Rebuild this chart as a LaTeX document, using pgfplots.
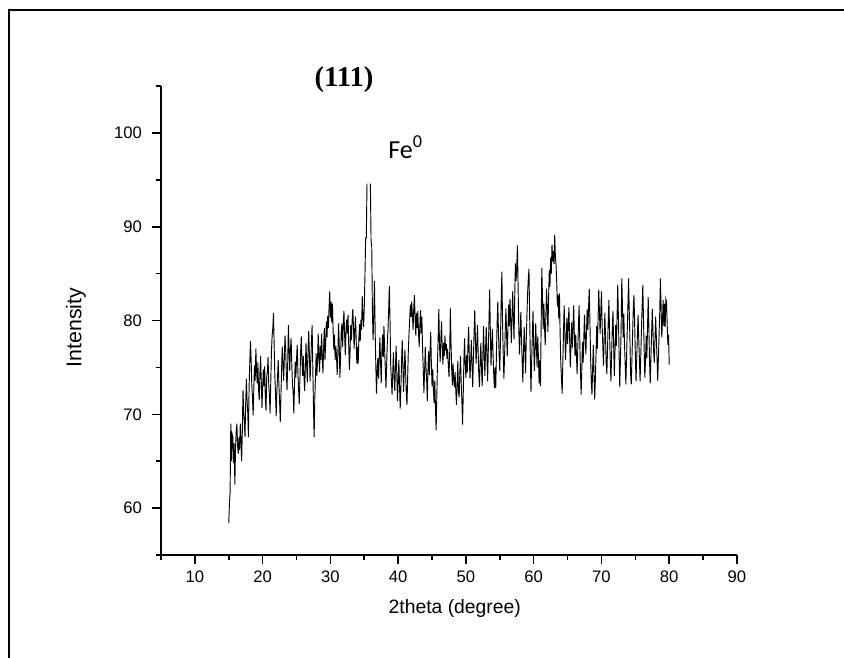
\documentclass[border=0pt]{standalone}
\usepackage{pgfplots}
\pgfplotsset{compat=1.18}
\usepackage{fontspec}
\setmainfont{Liberation Sans}
\newfontfamily\titlefont{Liberation Serif}
\newfontfamily\labelfont{Carlito}

\begin{document}
\begin{tikzpicture}
\useasboundingbox (0,0) rectangle (633pt,-493.5pt);
% page frame, only top and left edges are visible
\draw[line width=1.5pt] (6.5pt,-493.5pt) -- (6.5pt,-7.5pt) -- (633pt,-7.5pt);
\begin{axis}[
    at={(120.75pt,-416.25pt)}, anchor=south west,
    scale only axis, width=432pt, height=351.75pt,
    xmin=5, xmax=90, ymin=55, ymax=105,
    axis lines=left,
    axis line style={-, line width=1.5pt},
    tick align=outside,
    xtick={10,20,...,90}, minor xtick={5,15,...,85},
    ytick={60,70,...,100}, minor ytick={55,65,...,105},
    major tick length=6.75pt, minor tick length=3.75pt,
    every tick/.style={black, line width=1.2pt},
    /pgf/number format/assume math mode=true,
    tick label style={font=\fontsize{12.5}{14}\selectfont},
    yticklabel style={xshift=-4pt},
    xticklabel style={yshift=-1.5pt},
    xlabel={2theta (degree)},
    ylabel={Intensity},
    xlabel style={font=\fontsize{14.5}{16}\selectfont, at={(axis description cs:0.51,-0.113)}, anchor=center},
    ylabel style={font=\fontsize{16}{18}\selectfont, at={(axis description cs:-0.148,0.485)}, anchor=center},
    unbounded coords=jump,
]
\addplot[black, line width=0.7pt] coordinates {
(15.0,58.4) (15.1,60.5) (15.2,61.7) (15.3,69.0) (15.4,65.0) (15.5,67.9) (15.6,67.6) (15.7,64.8) (15.8,66.9) (15.9,62.5)
(16.0,66.4) (16.1,68.2) (16.2,69.0) (16.3,66.7) (16.4,65.8) (16.5,67.5) (16.6,66.2) (16.7,69.0) (16.8,67.3) (16.9,65.0)
(17.0,68.1) (17.1,72.6) (17.2,70.4) (17.3,69.1) (17.4,67.6) (17.5,71.2) (17.6,73.8) (17.7,71.5) (17.8,70.2) (17.9,67.6)
(18.0,72.9) (18.1,75.4) (18.2,77.8) (18.3,75.9) (18.4,73.1) (18.5,71.8) (18.6,69.9) (18.7,72.8) (18.8,75.2) (18.9,73.6)
(19.0,77.0) (19.1,74.8) (19.2,73.3) (19.3,75.5) (19.4,72.6) (19.5,71.5) (19.6,74.4) (19.7,76.2) (19.8,73.4) (19.9,70.7)
(20.0,72.9) (20.1,74.8) (20.2,73.0) (20.3,75.1) (20.4,71.6) (20.5,70.4) (20.6,73.9) (20.7,74.6) (20.8,76.1) (20.9,73.2)
(21.0,72.0) (21.1,70.1) (21.2,73.5) (21.3,76.7) (21.4,78.4) (21.5,79.2) (21.6,80.8) (21.7,77.3) (21.8,74.1) (21.9,72.3)
(22.0,69.8) (22.1,72.5) (22.2,74.0) (22.3,75.8) (22.4,73.1) (22.5,71.4) (22.6,69.2) (22.7,72.0) (22.8,74.9) (22.9,77.2)
(23.0,75.3) (23.1,73.6) (23.2,76.0) (23.3,78.4) (23.4,76.8) (23.5,74.2) (23.6,72.6) (23.7,75.5) (23.8,79.5) (23.9,77.0)
(24.0,74.6) (24.1,76.9) (24.2,78.1) (24.3,75.4) (24.4,73.2) (24.5,72.4) (24.6,70.1) (24.7,73.0) (24.8,75.6) (24.9,73.9)
(25.0,75.8) (25.1,77.4) (25.2,74.5) (25.3,72.8) (25.4,71.1) (25.5,73.7) (25.6,76.5) (25.7,78.3) (25.8,75.9) (25.9,74.1)
(26.0,76.2) (26.1,74.1) (26.2,72.5) (26.3,75.0) (26.4,77.6) (26.5,75.2) (26.6,73.4) (26.7,76.8) (26.8,78.9) (26.9,76.3)
(27.0,73.5) (27.1,75.6) (27.2,77.7) (27.3,79.5) (27.4,75.1) (27.5,70.8) (27.6,67.6) (27.7,71.9) (27.8,74.1) (27.9,76.5)
(28.0,74.1) (28.1,75.7) (28.2,78.6) (28.3,76.2) (28.4,74.5) (28.5,77.3) (28.6,75.8) (28.7,78.6) (28.8,76.0) (28.9,74.4)
(29.0,77.1) (29.1,79.2) (29.2,75.8) (29.3,77.5) (29.4,79.9) (29.5,78.2) (29.6,80.5) (29.7,79.2) (29.8,81.4) (29.9,83.1)
(30.0,80.3) (30.1,82.0) (30.2,79.8) (30.3,81.8) (30.4,78.9) (30.5,76.9) (30.6,78.5) (30.7,75.8) (30.8,77.3) (30.9,76.2)
(31.0,74.2) (31.1,76.4) (31.2,79.7) (31.3,77.6) (31.4,73.9) (31.5,76.0) (31.6,78.8) (31.7,79.7) (31.8,77.2) (31.9,79.7)
(32.0,81.0) (32.1,78.4) (32.2,76.3) (32.3,78.9) (32.4,80.1) (32.5,78.6) (32.6,80.6) (32.7,77.5) (32.8,74.7) (32.9,76.8)
(33.0,79.5) (33.1,77.9) (33.2,79.9) (33.3,81.2) (33.4,79.5) (33.5,77.0) (33.6,78.8) (33.7,80.4) (33.8,78.1) (33.9,75.4)
(34.0,77.2) (34.1,75.4) (34.2,78.0) (34.3,79.6) (34.4,77.8) (34.5,80.1) (34.6,79.0) (34.7,82.6) (34.8,80.4) (34.9,79.3)
(35.0,81.5) (35.1,84.8) (35.2,88.8) (35.3,88.8) (35.4,94.6) (35.5,nan) (35.9,94.6)
(36.0,88.4) (36.1,87.9) (36.2,81.0) (36.3,77.9) (36.4,80.6) (36.5,84.2) (36.6,79.0) (36.7,75.3) (36.8,72.2) (36.9,74.6)
(37.0,76.0) (37.1,73.8) (37.2,75.9) (37.3,78.2) (37.4,75.6) (37.5,73.3) (37.6,76.8) (37.7,78.5) (37.8,76.1) (37.9,79.4)
(38.0,77.0) (38.1,74.9) (38.2,72.8) (38.3,75.3) (38.4,77.6) (38.5,79.1) (38.6,81.2) (38.7,83.7) (38.8,79.9) (38.9,75.2)
(39.0,73.6) (39.1,72.1) (39.2,74.5) (39.3,76.6) (39.4,74.0) (39.5,72.5) (39.6,75.1) (39.7,77.3) (39.8,74.2) (39.9,71.4)
(40.0,73.5) (40.1,75.8) (40.2,73.0) (40.3,70.6) (40.4,72.8) (40.5,75.6) (40.6,77.9) (40.7,75.0) (40.8,72.4) (40.9,74.8)
(41.0,76.9) (41.1,74.5) (41.2,72.2) (41.3,71.0) (41.4,73.9) (41.5,76.8) (41.6,78.6) (41.7,80.1) (41.8,81.7) (41.9,80.4)
(42.0,82.0) (42.1,80.6) (42.2,79.0) (42.3,81.3) (42.4,82.7) (42.5,80.2) (42.6,78.4) (42.7,80.8) (42.8,79.2) (42.9,81.0)
(43.0,78.8) (43.1,77.2) (43.2,79.5) (43.3,81.1) (43.4,78.6) (43.5,80.4) (43.6,77.0) (43.7,74.8) (43.8,72.3) (43.9,74.6)
(44.0,77.2) (44.1,75.1) (44.2,73.7) (44.3,71.4) (44.4,74.9) (44.5,76.7) (44.6,74.2) (44.7,76.5) (44.8,78.8) (44.9,75.4)
(45.0,73.0) (45.1,74.8) (45.2,72.6) (45.3,71.2) (45.4,73.6) (45.5,70.9) (45.6,68.3) (45.7,71.8) (45.8,75.5) (45.9,78.2)
(46.0,81.2) (46.1,77.4) (46.2,75.6) (46.3,78.0) (46.4,79.9) (46.5,77.1) (46.6,75.3) (46.7,77.6) (46.8,76.2) (46.9,78.4)
(47.0,76.8) (47.1,77.5) (47.2,75.9) (47.3,77.0) (47.4,75.2) (47.5,74.0) (47.6,76.3) (47.7,81.3) (47.8,77.6) (47.9,74.8)
(48.0,73.1) (48.1,75.4) (48.2,73.6) (48.3,72.9) (48.4,74.5) (48.5,72.6) (48.6,71.0) (48.7,73.2) (48.8,75.7) (48.9,72.4)
(49.0,71.8) (49.1,74.5) (49.2,76.2) (49.3,73.4) (49.4,71.5) (49.5,68.9) (49.6,72.0) (49.7,75.8) (49.8,78.1) (49.9,75.2)
(50.0,73.9) (50.1,76.3) (50.2,74.5) (50.3,77.4) (50.4,79.3) (50.5,76.0) (50.6,73.8) (50.7,75.6) (50.8,77.9) (50.9,75.3)
(51.0,72.9) (51.1,75.8) (51.2,78.7) (51.3,81.1) (51.4,78.0) (51.5,75.4) (51.6,77.3) (51.7,79.5) (51.8,76.8) (51.9,74.2)
(52.0,72.9) (52.1,75.6) (52.2,77.6) (52.3,74.9) (52.4,73.0) (52.5,76.2) (52.6,79.4) (52.7,76.5) (52.8,74.1) (52.9,77.0)
(53.0,79.3) (53.1,76.4) (53.2,73.5) (53.3,76.8) (53.4,79.9) (53.5,83.3) (53.6,79.0) (53.7,75.2) (53.8,77.4) (53.9,79.1)
(54.0,76.5) (54.1,74.3) (54.2,72.8) (54.3,75.0) (54.4,72.8) (54.5,76.4) (54.6,79.6) (54.7,82.0) (54.8,78.8) (54.9,76.3)
(55.0,74.6) (55.1,78.2) (55.2,81.9) (55.3,85.2) (55.4,80.1) (55.5,76.5) (55.6,73.8) (55.7,76.1) (55.8,78.9) (55.9,81.3)
(56.0,78.5) (56.1,76.2) (56.2,79.0) (56.3,81.7) (56.4,79.4) (56.5,82.3) (56.6,80.0) (56.7,77.6) (56.8,80.4) (56.9,83.1)
(57.0,80.2) (57.1,78.0) (57.2,82.6) (57.3,86.1) (57.4,84.2) (57.5,85.8) (57.6,88.0) (57.7,83.5) (57.8,79.2) (57.9,76.4)
(58.0,78.6) (58.1,80.9) (58.2,78.1) (58.3,75.6) (58.4,73.4) (58.5,76.7) (58.6,79.3) (58.7,77.0) (58.8,74.4) (58.9,77.8)
(59.0,80.5) (59.1,82.9) (59.2,84.4) (59.3,85.5) (59.4,80.7) (59.5,76.1) (59.6,72.4) (59.7,75.6) (59.8,78.5) (59.9,81.0)
(60.0,77.4) (60.1,74.6) (60.2,76.9) (60.3,79.7) (60.4,77.2) (60.5,75.0) (60.6,78.3) (60.7,76.0) (60.8,73.3) (60.9,75.8)
(61.0,73.0) (61.1,79.4) (61.2,85.6) (61.3,82.3) (61.4,79.1) (61.5,81.8) (61.6,79.3) (61.7,77.4) (61.8,80.6) (61.9,83.4)
(62.0,81.2) (62.1,78.8) (62.2,82.5) (62.3,85.4) (62.4,83.6) (62.5,86.7) (62.6,85.0) (62.7,88.1) (62.8,86.3) (62.9,87.4)
(63.0,86.0) (63.1,89.1) (63.2,86.8) (63.3,85.9) (63.4,84.0) (63.5,81.5) (63.6,82.7) (63.7,80.2) (63.8,82.9) (63.9,78.6)
(64.0,75.4) (64.1,73.8) (64.2,72.2) (64.3,75.6) (64.4,78.9) (64.5,81.6) (64.6,78.4) (64.7,75.8) (64.8,78.0) (64.9,80.3)
(65.0,77.5) (65.1,79.6) (65.2,81.4) (65.3,78.2) (65.4,75.0) (65.5,77.3) (65.6,79.8) (65.7,77.1) (65.8,79.3) (65.9,81.6)
(66.0,78.4) (66.1,76.2) (66.2,78.5) (66.3,76.6) (66.4,74.3) (66.5,76.8) (66.6,79.4) (66.7,81.6) (66.8,77.9) (66.9,74.6)
(67.0,72.1) (67.1,74.8) (67.2,77.7) (67.3,75.5) (67.4,78.3) (67.5,80.6) (67.6,78.0) (67.7,76.4) (67.8,79.1) (67.9,81.2)
(68.0,79.0) (68.1,81.5) (68.2,83.4) (68.3,79.8) (68.4,76.0) (68.5,73.6) (68.6,72.1) (68.7,74.9) (68.8,77.4) (68.9,74.3)
(69.0,71.6) (69.1,73.7) (69.2,76.5) (69.3,79.4) (69.4,77.0) (69.5,80.3) (69.6,83.3) (69.7,81.0) (69.8,78.6) (69.9,80.9)
(70.0,83.1) (70.1,79.6) (70.2,77.2) (70.3,75.2) (70.4,78.0) (70.5,80.8) (70.6,78.3) (70.7,75.4) (70.8,74.3) (70.9,77.1)
(71.0,79.9) (71.1,82.2) (71.2,78.5) (71.3,75.6) (71.4,73.5) (71.5,76.4) (71.6,79.2) (71.7,81.0) (71.8,77.4) (71.9,74.1)
(72.0,76.8) (72.1,79.5) (72.2,77.3) (72.3,80.2) (72.4,83.8) (72.5,80.4) (72.6,76.5) (72.7,72.9) (72.8,75.8) (72.9,79.0)
(73.0,84.5) (73.1,81.6) (73.2,78.2) (73.3,80.7) (73.4,77.5) (73.5,75.4) (73.6,73.2) (73.7,75.9) (73.8,78.8) (73.9,81.4)
(74.0,84.5) (74.1,81.0) (74.2,77.9) (74.3,74.3) (74.4,73.2) (74.5,76.0) (74.6,78.7) (74.7,81.3) (74.8,82.7) (74.9,79.6)
(75.0,76.4) (75.1,73.5) (75.2,75.8) (75.3,78.3) (75.4,80.6) (75.5,78.1) (75.6,75.9) (75.7,73.5) (75.8,76.2) (75.9,79.0)
(76.0,81.4) (76.1,83.8) (76.2,80.2) (76.3,77.0) (76.4,73.9) (76.5,75.8) (76.6,78.4) (76.7,76.0) (76.8,79.3) (76.9,82.5)
(77.0,79.1) (77.1,75.6) (77.2,73.3) (77.3,76.1) (77.4,78.6) (77.5,81.2) (77.6,78.9) (77.7,76.7) (77.8,75.5) (77.9,78.0)
(78.0,80.4) (78.1,78.2) (78.2,76.0) (78.3,73.6) (78.4,75.9) (78.5,78.4) (78.6,80.9) (78.7,84.5) (78.8,81.5) (78.9,78.2)
(79.0,79.9) (79.1,82.2) (79.2,79.4) (79.3,81.8) (79.4,79.3) (79.5,82.3) (79.6,82.0) (79.7,79.6) (79.8,77.4) (79.9,78.5)
(80.0,75.3)
};
\end{axis}
\node[anchor=base, font=\titlefont\bfseries\fontsize{21.5}{24}\selectfont] at (258pt,-64.5pt) {(111)};
\node[anchor=base west, inner sep=0pt, font=\labelfont\fontsize{19.5}{22}\selectfont] at (291pt,-118.5pt) {Fe\textsuperscript{0}};
\end{tikzpicture}
\end{document}
